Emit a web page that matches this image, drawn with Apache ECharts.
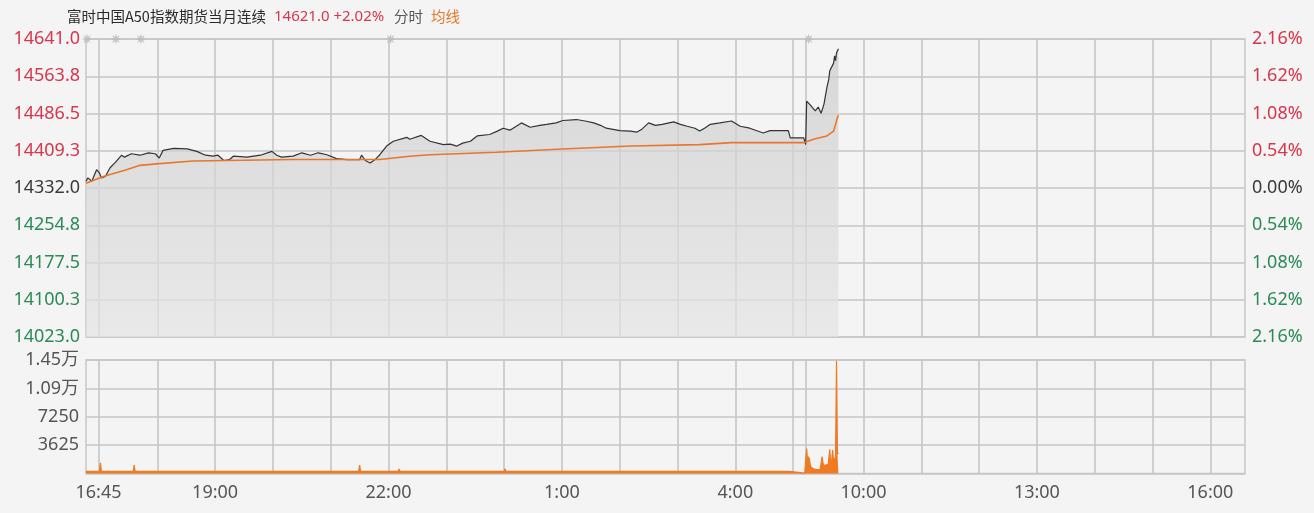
<!DOCTYPE html>
<html><head><meta charset="utf-8">
<script src="https://cdn.jsdelivr.net/npm/echarts@6/dist/echarts.min.js"></script>
<style>html,body{margin:0;padding:0;background:#f4f4f4}#c{width:1314px;height:513px}</style>
</head><body><div id="c"></div>
<script>
// ---------- data ----------
const titleName = '富时中国A50指数期货当月连续';
const lastPrice = 14621.0;
const changePct = '+2.02%';
const prevClose = 14332.0;
const slotCount = 1204; // one slot per minute of trading time
const categories = Array.from({length: slotCount}, (_, i) => String(i));
const tickIdx = [13, 134, 314, 494, 674, 807, 987, 1167];
const tickText = ['16:45', '19:00', '22:00', '1:00', '4:00', '10:00', '13:00', '16:00'];
const gridIdx = [13,74,134,194,254,314,374,434,494,554,614,674,734,747,807,867,927,987,1047,1107,1167];
const markerIdx = [1, 31, 57, 316, 750];
// [slot, price]
const priceLine = [[0,14346],[2,14353],[6,14346],[11,14370],[14,14363],[16,14353],[20,14356],[25,14374],[30,14384],[37,14400],[40,14396],[47,14403],[56,14400],[65,14405],[72,14403],[76,14394],[80,14410],[91,14414],[105,14413],[115,14408],[124,14400],[132,14398],[137,14400],[143,14389],[149,14391],[153,14398],[167,14396],[181,14400],[193,14408],[198,14400],[203,14396],[215,14398],[224,14405],[233,14400],[241,14405],[250,14401],[260,14393],[271,14391],[284,14391],[286,14400],[290,14389],[295,14384],[300,14391],[305,14401],[312,14419],[319,14429],[333,14437],[336,14433],[348,14441],[357,14429],[371,14422],[378,14423],[385,14419],[391,14425],[399,14429],[406,14440],[419,14443],[427,14450],[433,14456],[440,14452],[452,14467],[461,14458],[471,14462],[478,14464],[488,14467],[495,14472],[509,14474],[518,14471],[527,14467],[534,14462],[540,14456],[554,14451],[565,14450],[572,14448],[577,14454],[584,14467],[591,14462],[598,14464],[610,14469],[617,14464],[624,14460],[632,14456],[637,14450],[642,14456],[648,14464],[658,14467],[670,14471],[679,14460],[689,14456],[703,14446],[710,14451],[720,14451],[729,14451],[731,14436],[745,14436],[747,14422],[748,14512],[751,14506],[757,14492],[760,14500],[763,14487],[766,14506],[769,14540],[771,14558],[772,14575],[774,14571],[776,14591],[777,14606],[778,14596],[779,14612],[781,14621]];
// [slot, average price]
const avgLine = [[0,14342],[18,14356],[42,14370],[56,14379],[73,14382],[111,14388],[215,14391],[305,14391],[336,14398],[357,14401],[426,14406],[495,14413],[565,14419],[637,14422],[670,14426],[745,14426],[747,14422],[755,14433],[769,14440],[776,14450],[780,14478],[781,14483]];
// [slot, volume]
const volume = [[0,280],[14,280],[15,1380],[16,280],[23,280],[24,380],[25,280],[31,280],[32,380],[33,280],[35,280],[36,380],[37,280],[49,280],[50,1090],[51,280],[283,280],[284,1090],[285,280],[292,280],[293,380],[294,280],[316,280],[317,330],[318,280],[324,280],[325,575],[326,280],[405,280],[406,400],[407,280],[434,280],[435,575],[436,280],[443,280],[444,400],[445,280],[643,280],[644,380],[645,280],[730,280],[731,40],[746,40],[747,200],[748,3200],[749,1500],[750,2150],[751,1800],[752,900],[753,1090],[755,600],[757,700],[759,500],[760,600],[762,500],[764,2150],[765,1300],[767,900],[769,1200],[770,700],[772,3100],[773,1200],[774,1700],[775,3000],[776,1500],[777,1800],[778,2200],[779,14400],[780,2500],[781,2600]];
const priceHalfRange = 309;
const priceStep = 77.25;
const volMax = 14500;
const volStep = 3625;

// ---------- chart ----------
const RED = '#d8364d', GREEN = '#2b8a55', DARK = '#3a3a3a', GRAY = '#555', ORANGE = '#e8762c';
const GRIDC = '#c6c6c6';
const FONT = "'Noto Sans', 'Noto Sans CJK SC', sans-serif";
function starPath() {
  let d = '';
  for (let k = 0; k < 16; k++) {
    const r = k % 2 ? 0.45 : 1, a = k * Math.PI / 8;
    d += (k ? 'L' : 'M') + (50 + 50 * r * Math.sin(a)).toFixed(2) + ' ' + (50 - 50 * r * Math.cos(a)).toFixed(2);
  }
  return 'path://' + d + 'Z';
}
const isTick = (i) => tickIdx.indexOf(i) >= 0;
const isGrid = (i) => gridIdx.indexOf(i) >= 0;
const pctColor = (v) => Math.abs(v) < 1e-6 ? DARK : (v > 0 ? RED : GREEN);

const chart = echarts.init(document.getElementById('c'), null, {renderer: 'canvas'});
chart.setOption({
  animation: false,
  backgroundColor: '#f4f4f4',
  textStyle: {fontFamily: FONT},
  graphic: [
    {type: 'text', left: 67, top: 9, style: {text: titleName, fill: '#2a2a2a', font: "14.5px 'Noto Sans CJK SC'"}},
    {type: 'text', left: 274, top: 9, style: {text: lastPrice.toFixed(1) + ' ' + changePct, fill: RED, font: "15px 'Noto Sans', 'Noto Sans CJK SC'"}},
    {type: 'text', left: 394, top: 9, style: {text: '分时', fill: GRAY, font: "14.5px 'Noto Sans CJK SC'"}},
    {type: 'text', left: 431, top: 9, style: {text: '均线', fill: ORANGE, font: "14.5px 'Noto Sans CJK SC'"}}
  ],
  grid: [
    {left: 86, right: 69, top: 39, height: 298, show: true, borderColor: GRIDC, borderWidth: 1.5, backgroundColor: '#f4f4f4'},
    {left: 86, right: 69, top: 360, height: 113.5, show: true, borderColor: GRIDC, borderWidth: 1.5, backgroundColor: '#f4f4f4'}
  ],
  xAxis: [
    {type: 'category', gridIndex: 0, data: categories, boundaryGap: false,
      axisLine: {show: false}, axisTick: {show: false}, axisLabel: {show: false},
      splitLine: {show: true, interval: (i) => isGrid(i), lineStyle: {color: GRIDC, width: 1.6}}},
    {type: 'category', gridIndex: 1, data: categories, boundaryGap: false,
      axisLine: {show: false}, axisTick: {show: false},
      axisLabel: {show: true, interval: (i) => isTick(i), margin: 10, color: GRAY, fontSize: 18, fontFamily: FONT,
        formatter: (v, i) => tickText[tickIdx.indexOf(Number(v))] || ''},
      splitLine: {show: true, interval: (i) => isGrid(i), lineStyle: {color: GRIDC, width: 1.6}}}
  ],
  yAxis: [
    {type: 'value', gridIndex: 0, min: -priceHalfRange, max: priceHalfRange, interval: priceStep,
      axisLine: {show: false}, axisTick: {show: false},
      splitLine: {show: true, lineStyle: {color: GRIDC, width: 1.6}},
      axisLabel: {margin: 6, fontSize: 18, fontFamily: FONT, color: (v) => pctColor(Number(v)),
        formatter: (v) => (prevClose + v).toFixed(1)}},
    {type: 'value', gridIndex: 0, position: 'right', min: -priceHalfRange, max: priceHalfRange, interval: priceStep,
      axisLine: {show: false}, axisTick: {show: false}, splitLine: {show: false},
      axisLabel: {margin: 7, fontSize: 18, fontFamily: FONT, color: (v) => pctColor(Number(v)),
        formatter: (v) => (Math.abs(v) / prevClose * 100).toFixed(2) + '%'}},
    {type: 'value', gridIndex: 1, min: 0, max: volMax, interval: volStep,
      axisLine: {show: false}, axisTick: {show: false},
      splitLine: {show: true, lineStyle: {color: GRIDC, width: 1.6}},
      axisLabel: {margin: 7, fontSize: 18, fontFamily: FONT, color: GRAY,
        formatter: (v) => v === 0 ? '' : (v >= 10000 ? (Math.round(v / 100) / 100).toFixed(2) + '万' : String(v))}}
  ],
  series: [
    {name: '价格', type: 'line', xAxisIndex: 0, yAxisIndex: 0, showSymbol: false, symbol: 'none',
      data: priceLine.map(([i, p]) => [i, p - prevClose]),
      lineStyle: {color: '#333', width: 1.2},
      areaStyle: {origin: 'start', color: {type: 'linear', x: 0, y: 0, x2: 0, y2: 1,
        colorStops: [{offset: 0, color: '#cbcbcb'}, {offset: 1, color: '#e4e4e4'}]}}, z: 3},
    {name: '均线', type: 'line', xAxisIndex: 0, yAxisIndex: 0, showSymbol: false, symbol: 'none',
      data: avgLine.map(([i, p]) => [i, p - prevClose]),
      lineStyle: {color: ORANGE, width: 1.6}, z: 4},
    {name: '标记', type: 'scatter', xAxisIndex: 0, yAxisIndex: 0, symbol: starPath(), symbolSize: 11,
      data: markerIdx.map((i) => [i, priceHalfRange]), itemStyle: {color: '#bdbdbd'}, clip: false, z: 5},
    {name: '成交量', type: 'line', xAxisIndex: 1, yAxisIndex: 2, showSymbol: false, symbol: 'none',
      data: volume, lineStyle: {color: '#f07a22', width: 1.2},
      areaStyle: {origin: 'start', color: '#f07a22', opacity: 1}, z: 3}
  ]
});
</script></body></html>
